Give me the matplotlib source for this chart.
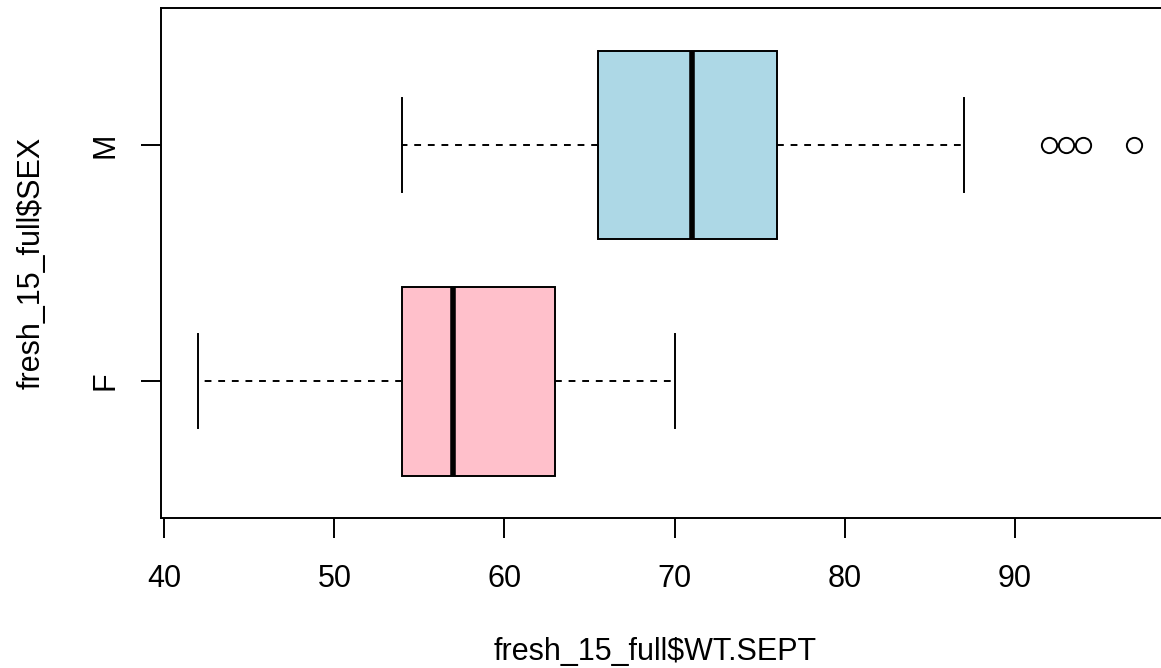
import matplotlib
matplotlib.use("Agg")
import matplotlib.pyplot as plt

plt.rcParams['font.family'] = ['Liberation Sans', 'DejaVu Sans']

groups = ["F", "M"]
whisker_low = [42, 54]
q1 = [54, 65.5]
median = [57, 71]
q3 = [63, 76]
whisker_high = [70, 87]
outliers = [[], [92, 93, 94, 97]]
fill_colors = ["pink", "lightblue"]
x_ticks = [40, 50, 60, 70, 80, 90]

fig = plt.figure(figsize=(11.61, 6.68), dpi=100)
ax = fig.add_axes([161/1161, 150/668, 1010/1161, 510/668])

stats = []
for i, g in enumerate(groups):
    stats.append(dict(label=g, whislo=whisker_low[i], q1=q1[i], med=median[i],
                      q3=q3[i], whishi=whisker_high[i], fliers=outliers[i]))

lw = 1.4
bp = ax.bxp(stats, positions=[1, 2], vert=False, widths=0.8, patch_artist=True,
            showfliers=True,
            boxprops=dict(linewidth=lw, edgecolor="black"),
            medianprops=dict(linewidth=4.0, color="black", solid_capstyle="butt"),
            whiskerprops=dict(linewidth=lw, color="black", linestyle=(0, (3.5, 3.5))),
            capprops=dict(linewidth=lw, color="black"),
            capwidths=0.4,
            flierprops=dict(marker="o", markerfacecolor="none", markeredgecolor="black",
                            markersize=11, markeredgewidth=1.4))
for patch, c in zip(bp["boxes"], fill_colors):
    patch.set_facecolor(c)

ax.set_xlim(39.8, 99.2)
ax.set_ylim(0.42, 2.58)
ax.set_xticks(x_ticks)
ax.set_xticklabels([str(v) for v in x_ticks])
ax.set_yticks([1, 2])
ax.set_yticklabels(groups, rotation=90, va="center")

for s in ax.spines.values():
    s.set_linewidth(lw)

ax.tick_params(axis="x", length=14.4, width=lw, labelsize=22, pad=19)
ax.tick_params(axis="y", length=14.4, width=lw, labelsize=22, pad=15)
ax.set_xlabel("fresh_15_full$WT.SEPT", fontsize=22, labelpad=31)
ax.set_ylabel("fresh_15_full$SEX", fontsize=22, labelpad=31)
ax.xaxis.label.set_x((655 - 161) / 1010)

fig.savefig("out.png", dpi=100)
